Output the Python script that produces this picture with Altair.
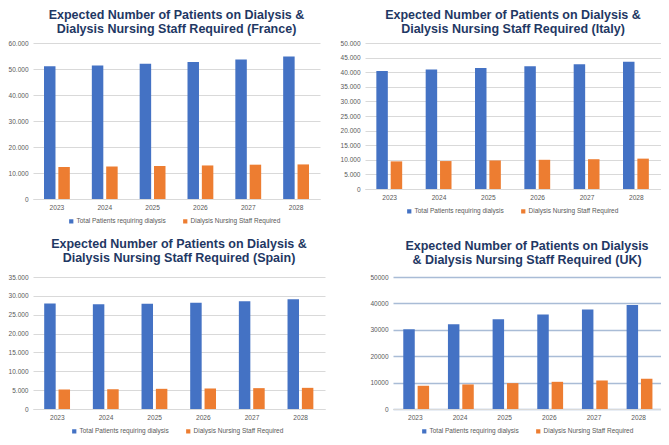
import altair as alt
import pandas as pd

years = ["2023", "2024", "2025", "2026", "2027", "2028"]
series_names = ["Total Patients requiring dialysis", "Dialysis Nursing Staff Required"]

france_total = [51100, 51300, 52000, 52700, 53700, 54800]
france_staff = [12300, 12500, 12700, 12900, 13200, 13300]
italy_total = [40400, 40900, 41400, 42000, 42700, 43600]
italy_staff = [9460, 9570, 9780, 10000, 10200, 10400]
spain_total = [28000, 27800, 27900, 28200, 28600, 29100]
spain_staff = [5180, 5260, 5350, 5440, 5530, 5610]
uk_total = [30200, 32100, 34000, 35800, 37700, 39400]
uk_staff = [8800, 9300, 9800, 10300, 10800, 11500]

BLUE = "#4472C4"
ORANGE = "#ED7D31"
TITLE_COLOR = "#1F3864"
LABEL_COLOR = "#595959"
FONT = "Liberation Sans"


def frame(total, staff):
    rows = []
    for i, y in enumerate(years):
        rows.append({"year": y, "series": series_names[0], "value": total[i]})
        rows.append({"year": y, "series": series_names[1], "value": staff[i]})
    return pd.DataFrame(rows)


def panel(total, staff, title_lines, ymax, step, w, h, legend_x, dotted=True,
          grid_color="#D9D9D9", grid_width=1.0, title_offset=5):
    df = frame(total, staff)
    if dotted:
        label_expr = "replace(format(datum.value, ',d'), ',', '.')"
    else:
        label_expr = "format(datum.value, 'd')"
    chart = alt.Chart(df).mark_bar().encode(
        x=alt.X("year:N", sort=years, title=None,
                scale=alt.Scale(paddingInner=0.46, paddingOuter=0.23),
                axis=alt.Axis(labelAngle=0, ticks=False, domain=True,
                              domainColor="#D9D9D9", domainWidth=1,
                              labelFontSize=6.6, labelColor=LABEL_COLOR,
                              labelFont=FONT, labelPadding=5, grid=False)),
        xOffset=alt.XOffset("series:N", sort=series_names,
                            scale=alt.Scale(paddingInner=0.2, paddingOuter=0)),
        y=alt.Y("value:Q", title=None,
                scale=alt.Scale(domain=[0, ymax], nice=False),
                axis=alt.Axis(values=list(range(0, ymax + 1, step)),
                              labelExpr=label_expr, ticks=False, domain=False,
                              grid=True, gridColor=grid_color, gridWidth=grid_width,
                              labelFontSize=6.5, labelColor=LABEL_COLOR,
                              labelFont=FONT, labelPadding=5)),
        color=alt.Color("series:N", sort=series_names, title=None,
                        scale=alt.Scale(domain=series_names, range=[BLUE, ORANGE]),
                        legend=alt.Legend(orient="none", legendX=legend_x,
                                          legendY=h + 19, direction="horizontal",
                                          symbolType="square", symbolSize=18,
                                          symbolStrokeWidth=0, labelFontSize=6.5,
                                          labelColor=LABEL_COLOR, labelFont=FONT,
                                          columnPadding=16, symbolOffset=0,
                                          labelOffset=2, padding=0)),
    ).properties(
        width=w, height=h,
        title=alt.TitleParams(
            text=title_lines,
            fontSize=12.5, lineHeight=14, font=FONT, fontWeight="bold",
            color=TITLE_COLOR, anchor="middle", offset=title_offset),
    )
    return chart


def std_title(country):
    return ["Expected Number of Patients on Dialysis &",
            "Dialysis Nursing Staff Required (" + country + ")"]


uk_title = ["Expected Number of Patients on Dialysis",
            "& Dialysis Nursing Staff Required (UK)"]

france = panel(france_total, france_staff, std_title("France"), 60000, 10000,
               287, 156, 35)
italy = panel(italy_total, italy_staff, std_title("Italy"), 50000, 5000,
              296, 146, 41)
spain = panel(spain_total, spain_staff, std_title("Spain"), 35000, 5000,
              292, 132, 38, title_offset=10)
uk = panel(uk_total, uk_staff, uk_title, 50000, 10000, 268, 132, 28,
           dotted=False, grid_color="#A9BCD6", grid_width=1.3, title_offset=8)

row1 = alt.hconcat(france, italy, spacing=20).resolve_scale(
    color="independent", x="independent", y="independent").resolve_legend(color="independent")
row2 = alt.hconcat(spain, uk, spacing=44).resolve_scale(
    color="independent", x="independent", y="independent").resolve_legend(color="independent")

chart = alt.vconcat(row1, row2, spacing=12).resolve_scale(
    color="independent").resolve_legend(color="independent").properties(
    padding=0, background="white"
).configure_view(stroke=None)

chart.save("out.html", embed_options={"renderer": "svg", "actions": False})
